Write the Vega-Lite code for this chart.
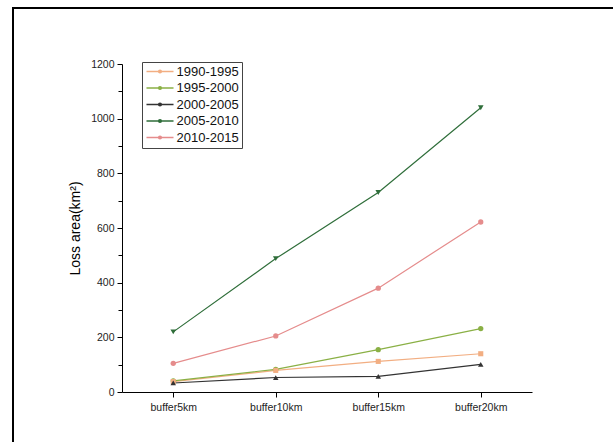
{
  "$schema": "https://vega.github.io/schema/vega-lite/v6.json",
  "width": 600,
  "height": 434,
  "autosize": {"type": "none"},
  "padding": {"left": 13, "top": 8, "right": 0, "bottom": 0},
  "background": "white",
  "config": {
    "view": {"stroke": "#000000", "strokeWidth": 2, "strokeDash": [600, 1034, 434]},
    "font": "Liberation Sans",
    "axis": {
      "domainColor": "#000000",
      "domainWidth": 1,
      "tickColor": "#000000",
      "tickWidth": 1,
      "labelColor": "#222222",
      "labelFontSize": 10.5,
      "titleColor": "#000000",
      "titleFontWeight": "normal",
      "grid": false
    }
  },
  "data": {
    "values": [
      {"buffer": "buffer5km", "period": "1990-1995", "area": 38},
      {"buffer": "buffer10km", "period": "1990-1995", "area": 79},
      {"buffer": "buffer15km", "period": "1990-1995", "area": 112},
      {"buffer": "buffer20km", "period": "1990-1995", "area": 140},
      {"buffer": "buffer5km", "period": "1995-2000", "area": 41},
      {"buffer": "buffer10km", "period": "1995-2000", "area": 83},
      {"buffer": "buffer15km", "period": "1995-2000", "area": 155},
      {"buffer": "buffer20km", "period": "1995-2000", "area": 232},
      {"buffer": "buffer5km", "period": "2000-2005", "area": 33},
      {"buffer": "buffer10km", "period": "2000-2005", "area": 53},
      {"buffer": "buffer15km", "period": "2000-2005", "area": 57},
      {"buffer": "buffer20km", "period": "2000-2005", "area": 101},
      {"buffer": "buffer5km", "period": "2005-2010", "area": 220},
      {"buffer": "buffer10km", "period": "2005-2010", "area": 488},
      {"buffer": "buffer15km", "period": "2005-2010", "area": 730},
      {"buffer": "buffer20km", "period": "2005-2010", "area": 1040},
      {"buffer": "buffer5km", "period": "2010-2015", "area": 105},
      {"buffer": "buffer10km", "period": "2010-2015", "area": 205},
      {"buffer": "buffer15km", "period": "2010-2015", "area": 380},
      {"buffer": "buffer20km", "period": "2010-2015", "area": 622}
    ]
  },
  "encoding": {
    "x": {
      "field": "buffer",
      "type": "ordinal",
      "sort": ["buffer5km", "buffer10km", "buffer15km", "buffer20km"],
      "scale": {"type": "point", "range": [109, 519], "padding": 0.5},
      "axis": {
        "title": null,
        "orient": "bottom",
        "offset": -50,
        "labelAngle": 0,
        "tickSize": 5,
        "labelPadding": 5
      }
    },
    "color": {
      "field": "period",
      "type": "nominal",
      "scale": {
        "domain": ["1990-1995", "1995-2000", "2000-2005", "2005-2010", "2010-2015"],
        "range": ["#F2AE82", "#8AB045", "#333333", "#2F6E3A", "#E58C8C"]
      },
      "legend": {
        "orient": "none",
        "legendX": 129,
        "legendY": 54,
        "title": null,
        "symbolType": "M-2.5,0H2.5M-0.25,0a0.25,0.25 0 1,0 0.5,0a0.25,0.25 0 1,0 -0.5,0",
        "symbolSize": 117,
        "symbolStrokeWidth": 1.5,
        "symbolOffset": 8.5,
        "labelFontSize": 13,
        "labelColor": "#111111",
        "labelOffset": 10,
        "rowPadding": 2.5,
        "padding": 3,
        "strokeColor": "#444444",
        "fillColor": "white"
      }
    }
  },
  "layer": [
    {
      "mark": {"type": "line", "strokeWidth": 1.2},
      "encoding": {
        "y": {
          "field": "area",
          "type": "quantitative",
          "scale": {"domain": [0, 1200], "range": [384, 56], "nice": false, "zero": false},
          "axis": {
            "orient": "left",
            "offset": -109,
            "values": [0, 200, 400, 600, 800, 1000, 1200],
            "format": "d",
            "title": "Loss area(km²)",
            "titleFontSize": 14,
            "titlePadding": 8,
            "tickSize": 5,
            "labelPadding": 3
          }
        }
      }
    },
    {
      "transform": [{"filter": {"field": "period", "oneOf": ["1995-2000", "2010-2015"]}}],
      "mark": {"type": "point", "shape": "circle", "filled": true, "size": 28, "opacity": 1},
      "encoding": {
        "y": {
          "field": "area",
          "type": "quantitative",
          "scale": {"domain": [0, 1200], "range": [384, 56], "nice": false, "zero": false},
          "axis": {
            "orient": "left",
            "offset": -109,
            "values": [100, 300, 500, 700, 900, 1100],
            "labels": false,
            "domain": false,
            "title": null,
            "tickSize": 4
          }
        }
      }
    },
    {
      "transform": [{"filter": {"field": "period", "equal": "1990-1995"}}],
      "mark": {"type": "point", "shape": "square", "filled": true, "size": 26, "opacity": 1},
      "encoding": {
        "y": {"field": "area", "type": "quantitative", "scale": {"domain": [0, 1200], "range": [384, 56], "nice": false, "zero": false}, "axis": null}
      }
    },
    {
      "transform": [{"filter": {"field": "period", "equal": "2000-2005"}}],
      "mark": {"type": "point", "shape": "triangle-up", "filled": true, "size": 30, "opacity": 1},
      "encoding": {
        "y": {"field": "area", "type": "quantitative", "scale": {"domain": [0, 1200], "range": [384, 56], "nice": false, "zero": false}, "axis": null}
      }
    },
    {
      "transform": [{"filter": {"field": "period", "equal": "2005-2010"}}],
      "mark": {"type": "point", "shape": "triangle-down", "filled": true, "size": 32, "opacity": 1},
      "encoding": {
        "y": {"field": "area", "type": "quantitative", "scale": {"domain": [0, 1200], "range": [384, 56], "nice": false, "zero": false}, "axis": null}
      }
    }
  ],
  "resolve": {"axis": {"y": "independent"}}
}
